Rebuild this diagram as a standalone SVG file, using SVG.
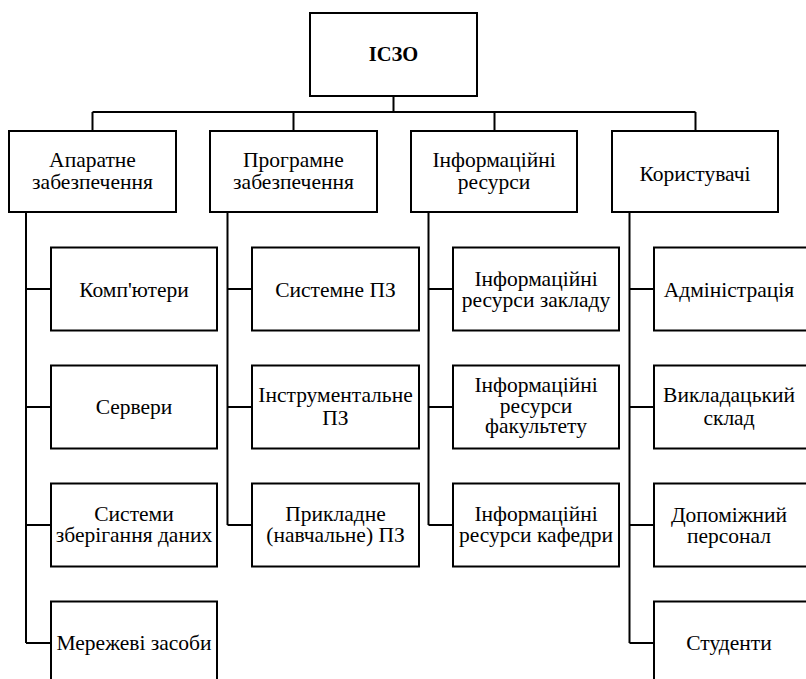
<svg xmlns="http://www.w3.org/2000/svg" width="806" height="679" viewBox="0 0 806 679" font-family="Liberation Serif">
  <style>
    .box { fill: #ffffff; stroke: #000000; stroke-width: 2; }
    .lbl { font-size: 21.5px; fill: #000000; text-anchor: middle; }
    .root { font-weight: bold; font-size: 20.5px; }
    .wire { fill: none; stroke: #000000; stroke-width: 2; }
  </style>
  <rect width="806" height="679" fill="#ffffff"/>

  <!-- connectors -->
  <g id="connectors" class="wire">
    <path d="M393.5 96 V112 M92.5 112 H695.5 M92.5 112 V131 M293.5 112 V131 M494.5 112 V131 M695.5 112 V131"/>
    <!-- hardware column -->
    <path d="M26 212 V643 M26 289 H51 M26 407 H51 M26 525 H51 M26 643 H51"/>
    <!-- software column -->
    <path d="M227.5 212 V525 M227.5 289 H252 M227.5 407 H252 M227.5 525 H252"/>
    <!-- information resources column -->
    <path d="M428.5 212 V525 M428.5 289 H453 M428.5 407 H453 M428.5 525 H453"/>
    <!-- users column -->
    <path d="M629.5 212 V643 M629.5 289 H654 M629.5 407 H654 M629.5 525 H654 M629.5 643 H654"/>
  </g>

  <!-- root -->
  <g id="n-root">
    <rect class="box" x="310" y="13" width="167" height="83"/>
    <text class="lbl root" font-family="Liberation Serif" x="393.5" y="61">ІСЗО</text>
  </g>

  <!-- level 1 -->
  <g id="n-hardware">
    <rect class="box" x="9" y="131" width="167" height="81"/>
    <text class="lbl" font-family="Liberation Serif" x="92.5" y="167.3">Апаратне</text>
    <text class="lbl" font-family="Liberation Serif" x="92.5" y="189">забезпечення</text>
  </g>
  <g id="n-software">
    <rect class="box" x="210" y="131" width="167" height="81"/>
    <text class="lbl" font-family="Liberation Serif" x="293.5" y="167.3">Програмне</text>
    <text class="lbl" font-family="Liberation Serif" x="293.5" y="189">забезпечення</text>
  </g>
  <g id="n-resources">
    <rect class="box" x="411" y="131" width="166" height="81"/>
    <text class="lbl" font-family="Liberation Serif" x="494" y="167.3">Інформаційні</text>
    <text class="lbl" font-family="Liberation Serif" x="494" y="189">ресурси</text>
  </g>
  <g id="n-users">
    <rect class="box" x="612" y="131" width="166" height="81"/>
    <text class="lbl" font-family="Liberation Serif" x="695" y="180.5">Користувачі</text>
  </g>

  <!-- hardware children -->
  <g id="n-computers">
    <rect class="box" x="51" y="247.5" width="166" height="83"/>
    <text class="lbl" font-family="Liberation Serif" x="134" y="297">Комп'ютери</text>
  </g>
  <g id="n-servers">
    <rect class="box" x="51" y="365.5" width="166" height="83"/>
    <text class="lbl" font-family="Liberation Serif" x="134" y="414">Сервери</text>
  </g>
  <g id="n-storage">
    <rect class="box" x="51" y="483.5" width="166" height="83"/>
    <text class="lbl" font-family="Liberation Serif" x="134" y="520.7">Системи</text>
    <text class="lbl" font-family="Liberation Serif" x="134" y="542">зберігання даних</text>
  </g>
  <g id="n-network">
    <rect class="box" x="51" y="601.5" width="166" height="83"/>
    <text class="lbl" font-family="Liberation Serif" x="134" y="650">Мережеві засоби</text>
  </g>

  <!-- software children -->
  <g id="n-system-sw">
    <rect class="box" x="252" y="247.5" width="167" height="83"/>
    <text class="lbl" font-family="Liberation Serif" x="335.5" y="297">Системне ПЗ</text>
  </g>
  <g id="n-tools-sw">
    <rect class="box" x="252" y="365.5" width="167" height="83"/>
    <text class="lbl" font-family="Liberation Serif" x="335.5" y="402.3">Інструментальне</text>
    <text class="lbl" font-family="Liberation Serif" x="335.5" y="425">ПЗ</text>
  </g>
  <g id="n-applied-sw">
    <rect class="box" x="252" y="483.5" width="167" height="83"/>
    <text class="lbl" font-family="Liberation Serif" x="335.5" y="520.7">Прикладне</text>
    <text class="lbl" font-family="Liberation Serif" x="335.5" y="542">(навчальне) ПЗ</text>
  </g>

  <!-- information resources children -->
  <g id="n-res-institution">
    <rect class="box" x="453" y="247.5" width="166" height="83"/>
    <text class="lbl" font-family="Liberation Serif" x="536" y="285.7">Інформаційні</text>
    <text class="lbl" font-family="Liberation Serif" x="536" y="307">ресурси закладу</text>
  </g>
  <g id="n-res-faculty">
    <rect class="box" x="453" y="365.5" width="166" height="83"/>
    <text class="lbl" font-family="Liberation Serif" x="536" y="392.3">Інформаційні</text>
    <text class="lbl" font-family="Liberation Serif" x="536" y="412.5">ресурси</text>
    <text class="lbl" font-family="Liberation Serif" x="536" y="433.3">факультету</text>
  </g>
  <g id="n-res-department">
    <rect class="box" x="453" y="483.5" width="166" height="83"/>
    <text class="lbl" font-family="Liberation Serif" x="536" y="521">Інформаційні</text>
    <text class="lbl" font-family="Liberation Serif" x="536" y="542">ресурси кафедри</text>
  </g>

  <!-- users children -->
  <g id="n-admin">
    <rect class="box" x="654" y="247.5" width="167" height="83"/>
    <text class="lbl" font-family="Liberation Serif" x="729" y="297">Адміністрація</text>
  </g>
  <g id="n-teachers">
    <rect class="box" x="654" y="365.5" width="167" height="83"/>
    <text class="lbl" font-family="Liberation Serif" x="729" y="402.3">Викладацький</text>
    <text class="lbl" font-family="Liberation Serif" x="729" y="425">склад</text>
  </g>
  <g id="n-support">
    <rect class="box" x="654" y="483.5" width="167" height="83"/>
    <text class="lbl" font-family="Liberation Serif" x="729" y="521.5">Допоміжний</text>
    <text class="lbl" font-family="Liberation Serif" x="729" y="543">персонал</text>
  </g>
  <g id="n-students">
    <rect class="box" x="654" y="601.5" width="167" height="83"/>
    <text class="lbl" font-family="Liberation Serif" x="729" y="650">Студенти</text>
  </g>
</svg>
